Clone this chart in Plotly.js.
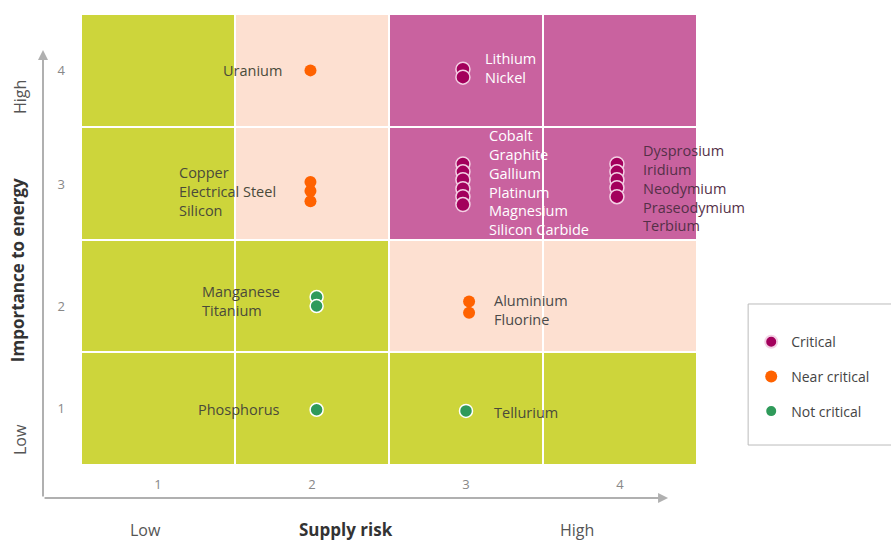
<!DOCTYPE html>
<html>
<head>
<meta charset="utf-8">
<script src="https://cdn.plot.ly/plotly-3.0.1.min.js"></script>
<style>html,body{margin:0;padding:0;background:#fff;}#chart{width:891px;height:542px;}</style>
</head>
<body>
<div id="chart"></div>
<script>
// Grid of risk zones (rows: importance 1..4, columns: supply risk 1..4); 0 = not critical, 1 = near critical, 2 = critical
const zoneX = [1, 2, 3, 4];
const zoneY = [1, 2, 3, 4];
const zoneZ = [
  [0, 0, 0, 0],
  [0, 0, 1, 1],
  [0, 1, 2, 2],
  [0, 1, 2, 2]
];

// Critical materials
const criticalNames = ["Lithium", "Nickel", "Cobalt", "Graphite", "Gallium", "Platinum", "Magnesium", "Silicon Carbide",
  "Dysprosium", "Iridium", "Neodymium", "Praseodymium", "Terbium"];
const criticalRisk = [2.98, 2.98, 2.98, 2.98, 2.98, 2.98, 2.98, 2.98, 3.98, 3.98, 3.98, 3.98, 3.98];
const criticalImportance = [4.01, 3.94, 3.17, 3.10, 3.03, 2.95, 2.88, 2.81, 3.17, 3.10, 3.03, 2.96, 2.88];

// Near critical materials
const nearNames = ["Uranium", "Copper", "Electrical Steel", "Silicon", "Aluminium", "Fluorine"];
const nearRisk = [1.99, 1.99, 1.99, 1.99, 3.02, 3.02];
const nearImportance = [4.00, 3.01, 2.93, 2.84, 1.95, 1.85];

// Not critical materials
const notNames = ["Manganese", "Titanium", "Phosphorus", "Tellurium"];
const notRisk = [2.03, 2.03, 2.03, 3.00];
const notImportance = [1.99, 1.91, 0.99, 0.98];

// Group labels
const labelText = ["Uranium", "Lithium<br>Nickel", "Cobalt<br>Graphite<br>Gallium<br>Platinum<br>Magnesium<br>Silicon Carbide",
  "Dysprosium<br>Iridium<br>Neodymium<br>Praseodymium<br>Terbium", "Copper<br>Electrical Steel<br>Silicon",
  "Manganese<br>Titanium", "Aluminium<br>Fluorine", "Phosphorus", "Tellurium"];
const labelX = [1.82, 3.11, 3.136, 4.136, 1.123, 1.272, 3.168, 1.246, 3.168];
const labelY = [4.0, 4.02, 3.006, 2.957, 2.926, 1.955, 1.879, 0.988, 0.97];
const labelAnchor = ["right", "left", "left", "left", "left", "left", "left", "left", "left"];
const labelColor = ["#4a4a3a", "#ffffff", "#ffffff", "#553048", "#4a4a3a", "#4a4a3a", "#4a4a4a", "#4a4a3a", "#4a4a3a"];

const xTickVals = [1, 2, 3, 4];
const yTickVals = [1, 1.91, 2.99, 4];
const tickText = ["1", "2", "3", "4"];

const FONT = "'Open Sans', Lato, sans-serif";

const traces = [
  {
    type: "heatmap", x: zoneX, y: zoneY, z: zoneZ, zmin: 0, zmax: 2,
    colorscale: [[0, "#cdd53b"], [0.333, "#cdd53b"], [0.334, "#fde0d1"], [0.666, "#fde0d1"], [0.667, "#c9629f"], [1, "#c9629f"]],
    showscale: false, xgap: 2, ygap: 2, hoverinfo: "skip", showlegend: false
  },
  {
    type: "scatter", mode: "markers", name: "Critical", legendgroup: "a",
    x: criticalRisk, y: criticalImportance, text: criticalNames,
    marker: { color: "#a3005c", size: 14, line: { color: "#f3d0e4", width: 1.5 } }
  },
  {
    type: "scatter", mode: "markers", name: "Near critical", legendgroup: "b",
    x: nearRisk, y: nearImportance, text: nearNames,
    marker: { color: "#ff6200", size: 12, line: { width: 0 } }
  },
  {
    type: "scatter", mode: "markers", name: "Not critical", legendgroup: "c",
    x: notRisk, y: notImportance, text: notNames,
    marker: { color: "#2f9a5a", size: 13, line: { color: "#ffffff", width: 1.5 } }
  }
];

const annotations = labelText.map((t, i) => ({
  x: labelX[i], y: labelY[i], xref: "x", yref: "y", text: t, showarrow: false,
  xanchor: labelAnchor[i], yanchor: "middle", align: "left",
  font: { family: FONT, size: 14.5, color: labelColor[i] }
}));

// Axis arrows and axis captions
annotations.push(
  { x: -0.0617, y: 0.92, xref: "paper", yref: "paper", ax: 0, ay: 448, text: "", showarrow: true,
    arrowhead: 2, arrowsize: 1, arrowwidth: 2, arrowcolor: "#b0b0b0" },
  { x: 0.953, y: -0.0732, xref: "paper", yref: "paper", ax: -625, ay: 0, text: "", showarrow: true,
    arrowhead: 2, arrowsize: 1, arrowwidth: 2, arrowcolor: "#b0b0b0" },
  { x: 0.430, y: -0.144, xref: "paper", yref: "paper", xanchor: "center", yanchor: "middle",
    text: "<b>Supply risk</b>", showarrow: false, font: { family: FONT, size: 17, color: "#333333" } },
  { x: 0.1055, y: -0.144, xref: "paper", yref: "paper", xanchor: "center", yanchor: "middle",
    text: "Low", showarrow: false, font: { family: FONT, size: 16, color: "#555555" } },
  { x: 0.805, y: -0.144, xref: "paper", yref: "paper", xanchor: "center", yanchor: "middle",
    text: "High", showarrow: false, font: { family: FONT, size: 16, color: "#555555" } },
  { x: -0.1039, y: 0.432, xref: "paper", yref: "paper", xanchor: "center", yanchor: "middle",
    text: "<b>Importance to energy</b>", showarrow: false, textangle: -90,
    font: { family: FONT, size: 17, color: "#333333" } },
  { x: -0.099, y: 0.816, xref: "paper", yref: "paper", xanchor: "center", yanchor: "middle",
    text: "High", showarrow: false, textangle: -90, font: { family: FONT, size: 16, color: "#555555" } },
  { x: -0.099, y: 0.0554, xref: "paper", yref: "paper", xanchor: "center", yanchor: "middle",
    text: "Low", showarrow: false, textangle: -90, font: { family: FONT, size: 16, color: "#555555" } }
);

const layout = {
  width: 891, height: 542,
  margin: { l: 81, r: 194, t: 14, b: 77 },
  paper_bgcolor: "#ffffff", plot_bgcolor: "#ffffff",
  font: { family: FONT, size: 14, color: "#444" },
  xaxis: {
    range: [0.5, 4.5], tickvals: xTickVals, ticktext: tickText, showgrid: false, zeroline: false,
    showline: false, ticks: "", ticklabelstandoff: 10, fixedrange: true,
    tickfont: { family: FONT, size: 13, color: "#888888" }
  },
  yaxis: {
    range: [0.5, 4.5], tickvals: yTickVals, ticktext: tickText, showgrid: false, zeroline: false,
    showline: false, ticks: "", ticklabelstandoff: 15, fixedrange: true,
    tickfont: { family: FONT, size: 13, color: "#888888" }
  },
  showlegend: true,
  legend: {
    x: 1.088, y: 0.308, xanchor: "left", yanchor: "top", bgcolor: "rgba(0,0,0,0)",
    borderwidth: 0, tracegroupgap: 13.5, itemsizing: "constant",
    font: { family: FONT, size: 14, color: "#444444" }
  },
  shapes: [
    { type: "rect", xref: "paper", yref: "paper", x0: 1.083, x1: 1.33, y0: 0.0443, y1: 0.357,
      line: { color: "#bbbbbb", width: 1 }, fillcolor: "rgba(0,0,0,0)" }
  ],
  annotations: annotations
};

Plotly.newPlot("chart", traces, layout, { displayModeBar: false, staticPlot: true });
</script>
</body>
</html>
